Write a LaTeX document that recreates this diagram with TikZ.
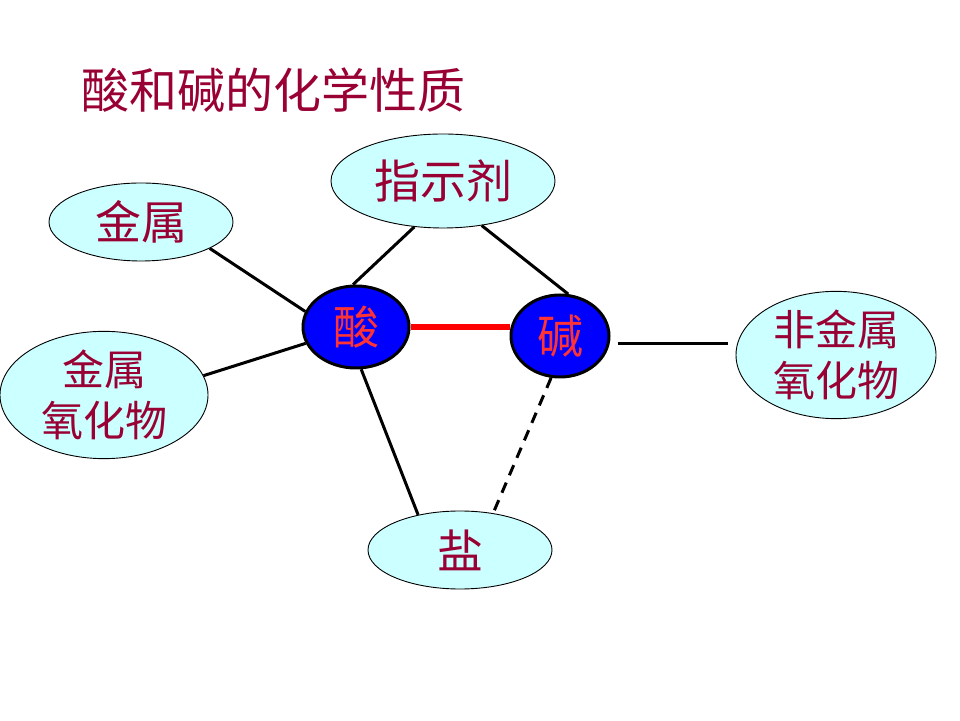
\documentclass[tikz,border=0pt]{standalone}
\usepackage{fontspec}
\usepackage{xcolor}
\usepackage{tikz}
\usetikzlibrary{shapes.geometric}
\newfontfamily\cjk{Noto Sans CJK SC}
\definecolor{scuro}{HTML}{990033}
\definecolor{ciano}{HTML}{CCFFFF}
\definecolor{rosso}{HTML}{FF3333}

\begin{document}
\begin{tikzpicture}[x=1pt, y=1pt,
    sostanza/.style={ellipse, draw=black, line width=0.9pt, fill=ciano, inner sep=0pt,
        text=scuro, align=center},
    centro/.style={ellipse, draw=black, line width=3pt, fill=blue, inner sep=0pt,
        text=rosso, font=\cjk\fontsize{46}{50}\selectfont},
    legame/.style={line width=3pt, black}]
        \useasboundingbox (0,0) rectangle (960,720);

        % Titolo
        \node[text=scuro, font=\cjk\fontsize{48}{50}\selectfont] (titolo) at (273,630) {酸和碱的化学性质};

        % Acido e base
        \node[centro, minimum width=106, minimum height=82] (suan) at (356,393) {酸};
        \node[centro, minimum width=98, minimum height=82] (jian) at (560,384) {碱};

        % Sostanze intorno
        \node[sostanza, minimum width=224, minimum height=94, font=\cjk\fontsize{46}{50}\selectfont] (zhishiji) at (443,539) {指示剂};
        \node[sostanza, minimum width=184, minimum height=78, font=\cjk\fontsize{46}{50}\selectfont] (jinshu) at (141,498) {金属};
        \node[sostanza, minimum width=208, minimum height=120, font=\cjk\fontsize{42}{51}\selectfont] (ossido) at (104,325) {金属\\氧化物};
        \node[sostanza, minimum width=200, minimum height=120, font=\cjk\fontsize{42}{51}\selectfont] (nonmet) at (836,365) {非金属\\氧化物};
        \node[sostanza, minimum width=184, minimum height=78, font=\cjk\fontsize{46}{50}\selectfont] (yan) at (460,170) {盐};

        % Collegamenti
        \draw[legame] (jinshu.-21) -- (suan.163);
        \draw[legame] (ossido.11) -- (suan.198);
        \draw[legame] (zhishiji.-122) -- (suan.94);
        \draw[legame] (zhishiji.-49) -- (jian.79);
        \draw[line width=6pt, red] (suan.east) -- (suan.east -| jian.west);
        \draw[legame] ([shift={(7,-8)}]jian.east) -- ([shift={(-8,-8)}]jian.east -| nonmet.west);
        \draw[legame] (suan.-83) -- (yan.140);
        \draw[legame, dash pattern=on 11pt off 8pt] (jian.-102) -- (yan.48);
    \end{tikzpicture}
\end{document}
